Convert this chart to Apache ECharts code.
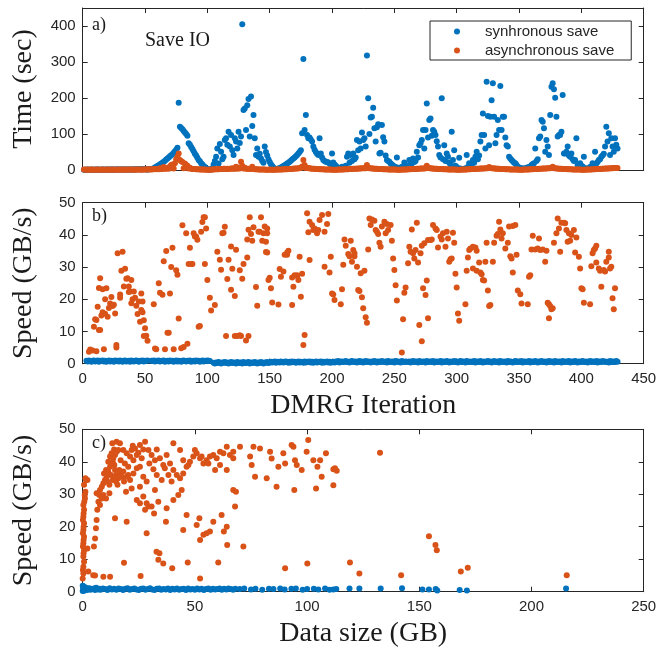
<!DOCTYPE html>
<html><head><meta charset="utf-8">
<script src="https://cdn.jsdelivr.net/npm/echarts@6/dist/echarts.min.js"></script>
<style>html,body{margin:0;padding:0;background:#fff}#c{width:668px;height:650px}</style>
</head><body><div id="c"></div><script>
// ---------- DATA ----------
const seriesNames = ['synhronous save', 'asynchronous save'];
const iterTicks = [0, 50, 100, 150, 200, 250, 300, 350, 400, 450];
const sizeTicks = [0, 50, 100, 150, 200, 250];
const timeTicks = [0, 100, 200, 300, 400];
const speedTicks = [0, 10, 20, 30, 40, 50];

// panel a: save time (sec) per DMRG iteration 1..429
const aSyncTime = [
0.8,0.9,1.0,1.1,0.9,1.0,1.2,1.0,0.9,1.1,
1.0,1.2,1.1,0.9,1.0,1.1,1.3,1.0,1.2,1.1,
1.0,1.2,1.3,1.1,1.0,1.2,1.4,1.3,1.1,1.2,
1.3,1.5,1.2,1.4,1.3,1.5,1.6,1.4,1.5,1.7,
1.6,1.8,1.7,1.9,2.0,1.8,2.1,2.3,2.2,2.5,
1.4,1.6,1.8,2.0,2.5,3,5,7,9,11,
13,15,18,20,23,26,29,32,35,38,
41,44,48,52,56,62,187,120,117,113,
108,104,100,95,74,70,64,58,52,45,
40,34,28,24,19,15,11,8,5,3,
2,1.5,1.2,5,15,25,37,60,18,72,
51,30,37,83,88,70,106,65,97,55,
42,88,79,60,106,75,93,405,167,171,
111,180,197,93,204,122,153,88,42,60,
37,45,32,25,20,65,50,40,30,22,
16,11,7,4,2,2,4,5,7,9,
11,13,15,18,20,23,26,29,32,35,
38,42,46,50,55,102,308,111,153,97,
88,90,85,79,65,56,50,45,42,88,
46,35,28,25,23,22,21,18,15,46,
21,15,12,8,5,3,4,9,6,8,
12,37,46,20,42,25,46,30,35,83,
55,79,60,104,83,88,65,318,199,100,
146,148,173,116,79,119,127,46,48,125,
91,79,40,28,25,23,18,15,12,10,
8,35,6,5,4,9,5,21,7,10,
12,28,15,18,32,22,25,51,35,69,
74,83,111,60,111,185,90,139,143,95,
111,106,97,80,65,42,35,199,30,69,
25,46,37,20,15,106,28,55,12,8,
5,34,4,3,2,3,5,42,8,19,
12,15,28,20,37,51,30,40,79,97,
157,97,60,245,150,69,148,194,241,148,
74,97,139,111,233,111,148,148,90,69,
65,37,32,28,24,20,19,14,9,7,
5,4,5,3,4,6,7,8,9,14,
17,19,60,25,30,88,93,139,134,116,
51,83,65,42,153,231,241,224,201,148,
93,97,97,106,208,46,46,51,65,40,
37,46,30,25,28,88,14,16,19,12,
10,37,5,4,3,5,8,10,19,14,
51,18,22,28,30,37,40,45,65,120,
79,102,42,88,65,51,88,70,60
];
const aAsyncTime = [
1.2,0.9,1.1,1.0,1.3,0.8,1.1,1.2,0.9,1.0,
1.1,1.3,0.9,1.0,1.2,1.1,0.8,1.0,1.3,1.1,
0.9,1.2,1.0,1.1,1.4,1.0,0.9,1.2,1.1,1.0,
1.3,1.1,0.9,1.2,1.0,1.1,1.4,1.2,1.0,1.1,
1.2,1.0,1.3,1.1,1.5,1.2,1.0,1.3,1.6,1.2,
1.4,1.8,1.5,2.0,1.7,2.2,1.9,2.5,2.1,2.8,
2.4,5.0,2.6,3.0,8.0,3.2,3.5,6.0,3.8,10.0,
14.0,15.0,4.5,19.0,30.0,37.0,46.0,28.0,24.0,22.0,
5.0,18.0,14.0,12.0,4.0,6.0,3.5,3.0,2.8,2.5,
2.2,2.0,1.8,1.6,1.5,1.3,1.2,1.1,1.0,1.0,
0.9,1.0,1.2,1.4,1.6,1.8,2.0,2.2,2.4,2.6,
2.8,3.0,3.2,3.4,2.8,3.6,3.0,3.8,3.2,5.0,
3.4,3.6,9.0,3.8,6.0,4.0,23.0,12.0,4.2,6.0,
3.8,3.5,3.2,3.0,2.8,9.0,2.5,2.2,2.0,1.8,
1.6,1.5,1.4,1.3,1.2,1.1,1.0,0.9,1.0,1.1,
0.9,1.0,1.0,0.9,1.1,1.2,1.3,1.4,1.5,1.7,
1.8,2.0,2.2,2.4,2.6,2.8,3.0,3.3,3.6,3.9,
4.2,4.5,4.8,5.2,5.6,10.0,28.0,14.0,5.5,6.0,
5.0,4.6,4.2,3.8,3.5,3.2,3.0,2.7,2.5,2.3,
2.1,1.9,1.8,1.6,1.5,1.4,1.3,1.2,1.1,1.0,
1.0,0.9,1.0,0.9,1.1,1.2,1.3,1.4,1.6,1.8,
2.0,2.2,2.4,2.6,2.8,3.0,3.2,3.4,3.6,3.8,
4.0,4.2,4.4,4.6,4.8,5.0,5.2,14.0,6.0,5.0,
4.6,4.3,4.0,3.8,3.5,3.3,3.1,2.9,2.7,2.5,
2.3,2.1,2.0,1.8,1.7,1.6,1.5,1.4,1.3,1.2,
1.1,1.0,1.0,0.9,1.0,1.1,1.2,1.3,1.5,1.7,
1.9,2.1,2.3,2.5,2.7,2.9,3.1,3.3,3.5,3.7,
3.9,4.1,4.3,4.5,4.8,12.0,6.0,5.0,4.6,4.3,
4.0,3.8,3.5,3.3,3.1,2.9,2.7,2.5,2.3,2.1,
2.0,1.8,1.7,1.6,1.5,1.4,1.3,1.2,1.1,1.0,
1.0,0.9,1.0,1.1,1.2,1.3,1.5,1.7,1.9,2.1,
2.3,2.5,2.7,2.9,3.1,3.3,3.5,3.7,3.9,4.1,
4.3,4.5,4.7,4.9,5.1,8.0,5.3,4.9,4.6,4.3,
4.0,3.8,3.5,3.3,3.1,2.9,2.7,2.5,2.3,2.1,
2.0,1.8,1.7,1.6,1.5,1.4,1.3,1.2,1.1,1.0,
1.0,0.9,1.0,1.1,1.2,1.3,1.5,1.7,1.9,2.1,
2.3,2.5,2.7,2.9,3.1,3.3,3.5,3.7,3.9,4.1,
4.3,4.5,4.7,4.9,5.1,5.3,9.0,5.0,4.6,4.3,
4.0,3.8,3.5,3.3,3.1,2.9,2.7,2.5,2.3,2.1,
2.0,1.8,1.7,1.6,1.5,1.4,1.3,1.2,1.1,1.0,
1.0,0.9,1.0,1.1,1.2,1.3,1.5,1.7,1.9,2.1,
2.3,2.5,2.7,2.9,3.1,3.3,3.5,3.7,3.9,4.1,
4.3,4.5,4.7,4.9,5.1,5.3,5.5,5.7,5.9
];

// panel b: save speed (GB/s), synchronous, per iteration 1..429 (null = no save)
const bSyncSpeed = [
null,null,0.9,0.7,1.0,0.8,0.6,0.9,1.0,0.7,
0.8,1.0,0.6,0.9,0.8,1.0,0.7,0.9,0.6,0.8,
1.0,0.7,0.9,0.8,0.6,1.0,0.8,0.9,0.7,1.0,
0.8,0.6,0.9,1.0,0.7,0.8,0.9,0.6,1.0,0.8,
0.7,0.9,1.0,0.8,0.6,0.9,0.8,1.0,0.7,0.9,
0.8,1.0,null,null,0.9,0.8,1.0,0.7,0.9,0.8,
1.0,0.7,0.8,0.9,1.0,0.6,0.8,0.9,0.7,1.0,
0.8,0.9,0.6,0.8,1.0,0.7,0.9,0.8,0.6,0.9,
1.0,0.8,0.7,0.9,0.8,1.0,0.6,0.8,0.9,0.7,
1.0,0.8,0.9,0.6,0.8,1.0,0.7,0.9,0.8,1.0,
0.9,0.8,null,null,0.3,0.1,0.4,0.2,0.5,0.3,
0.1,0.4,0.3,0.5,0.2,0.4,0.1,0.3,0.5,0.2,
0.4,0.3,0.1,0.5,0.2,0.3,0.4,0.1,0.5,0.3,
0.2,0.4,0.5,0.1,0.3,0.4,0.2,0.5,0.3,0.1,
0.4,0.2,0.5,0.3,0.1,0.4,0.3,0.5,0.2,0.4,
0.6,0.4,0.5,0.7,0.3,0.6,0.5,0.4,0.7,0.5,
0.4,0.6,0.7,0.5,0.3,0.6,0.4,0.7,0.5,0.6,
0.3,0.5,0.7,0.4,0.6,0.5,0.3,0.7,0.4,0.6,
0.5,0.7,0.4,0.6,0.3,0.5,0.7,0.4,0.6,0.5,
0.7,0.3,0.6,0.4,0.5,0.7,0.4,0.6,0.3,0.5,
0.6,0.4,0.7,0.5,0.8,0.4,0.6,0.7,0.5,0.6,
0.8,0.5,0.6,0.4,0.7,0.8,0.5,0.6,0.7,0.4,
0.6,0.8,0.5,0.7,0.4,0.6,0.8,0.5,0.7,0.6,
0.4,0.7,0.5,0.8,0.6,0.4,0.7,0.6,0.5,0.8,
0.6,0.5,0.7,0.4,0.8,0.6,0.5,0.7,0.6,0.4,
0.8,0.6,0.7,0.5,0.4,0.8,0.6,0.5,0.7,0.6,
0.5,0.7,0.4,0.6,0.8,0.5,0.7,0.6,0.4,0.8,
0.6,0.5,0.7,0.6,0.4,0.8,0.5,0.6,0.7,0.5,
0.8,0.4,0.6,0.7,0.5,0.6,0.8,0.4,0.7,0.6,
0.5,0.8,0.6,0.4,0.7,0.5,0.6,0.8,0.5,0.7,
0.4,0.6,0.8,0.5,0.7,0.6,0.4,0.8,0.6,0.5,
0.7,0.5,0.6,0.8,0.4,0.7,0.6,0.5,0.8,0.6,
0.4,0.7,0.5,0.6,0.8,0.5,0.7,0.4,0.6,0.8,
0.5,0.6,0.7,0.4,0.8,0.6,0.5,0.7,0.6,0.4,
0.8,0.5,0.7,0.6,0.4,0.6,0.8,0.5,0.7,0.6,
0.5,0.8,0.4,0.6,0.7,0.5,0.6,0.8,0.4,0.7,
0.6,0.5,0.8,0.6,0.4,0.7,0.5,0.8,0.6,0.5,
0.7,0.4,0.6,0.8,0.5,0.7,0.6,0.4,0.8,0.6,
0.5,0.7,0.6,0.4,0.8,0.5,0.6,0.7,0.5,0.8,
0.4,0.6,0.7,0.5,0.8,0.6,0.4,0.7,0.6,0.5,
0.8,0.6,0.5,0.7,0.4,0.6,0.8,0.5,0.7,0.6,
0.5,0.8,0.4,0.7,0.6,0.5,0.8,0.6,0.7,0.5,
0.6,0.4,0.8,0.5,0.7,0.6,0.5,0.8,0.6
];
// panel b: asynchronous save speed, [iteration, GB/s]
const bAsyncPoints = [
[5,3.7],[6,4.4],[8,4.1],[9,11.5],[11,13.6],[11,3.9],[12,17.7],[13,10.5],[13,23.5],[14,26.5],[15,15],[16,16],[17,4.5],[18,20],[18,15.5],[19,23.4],[21,17.3],[22,18.7],[23,20.7],[25,18.3],[27,5],[27,5.8],[28,34.3],[30,21.5],[30,20.5],[31,28.9],[32,34.8],[33,24],[34,29.5],[35,26.4],[37,24],[37,22.3],[39,18.8],[39,26],[41,22.4],[42,20.5],[43,18],[44,15.4],[46,13],[47,21.8],[48,19.3],[48,16],[49,13.5],[50,11],[51,8.7],[52,7.1],
[10,13.8],[14,10.5],[16,23.1],[20,14.6],[24,17.9],[26,15.6],[36,26.5],[38,22.4],[40,20],[45,19.3],[47,16.7],[49,8.6],
[57,18.5],[58,4.7],[59,4.5],[61,25],[62,22],[64,21.4],[65,31.8],[66,4.5],[67,35],[68,9.6],[69,9.6],[70,21.8],[71,30],[72,36],[73,4.5],[75,29],[76,27.6],[77,14],[79,4.8],[80,43],[81,5.2],[83,40.5],[84,6.2],[86,36],[87,31],[89,40.5],[90,39.5],[92,38.5],[94,11.7],[95,41],[96,44],[98,45.5],[98,31],[100,26],[102,20.5],[103,16.5],
[85,31],[88,31],[91,39.5],[93,11.5],[97,45.5],[99,42],
[106,18.2],[108,34.8],[110,32.3],[111,29.2],[112,40.5],[113,40.7],[114,42.5],[115,8.6],[116,26.3],[117,32.3],[119,36.4],[119,23],[120,29.5],[122,8.6],[122,21],[123,35.4],[124,8.6],[126,29],[126,8.8],[127,8.6],[128,26.4],[129,31],[131,7.2],[132,33],[133,8.6],[132,38.6],[133,41.6],[134,45.5],[135,40.3],[136,38.2],[137,42.4],[139,23.8],[140,18],[141,41],[142,41],[143,45.5],[144,38.2],[145,40.5],[146,42.6],[147,34.7],
[148,42],[148,40.5],[147,37.9],[148,34.5],[149,26],[150,26.7],[151,23.4],[152,19],[157,18.4],[158,29.4],[159,27],[161,28.6],[164,34.5],[165,35.1],[164,33.8],[162,33.8],[168,26.8],[169,23.9],[170,27.5],[172,27.2],[173,26],[172,27.5],[174,33.2],[176,27.9],[175,20.8],[168,18.2],[178,8.9],[177,5.8],[180,46.7],[181,40.8],[182,44.1],[184,43.1],[185,41.5],[186,42],[188,40.5],[189,41.5],[190,44.6],[192,46.2],[194,41],[196,43.4],[197,46.5],[182,32.2],[194,30.1],[198,28.3],[199,33.2],[201,21.5],[200,21.8],[202,19.8],[207,18.5],[208,23.1],[209,30.7],[210,38.6],[211,36.6],[213,34.1],[214,33.4],[215,38.2],[216,31.7],[217,35.3],[218,34.3],[220,30.1],[218,33.4],[221,22.9],[222,22.6],[224,20.6],[225,17.2],[223,28.1],[226,28.9],[227,14.4],[228,12.7],[229,35.5],[230,45.1],[232,44.8],[234,44.4],[231,43.1],[236,41],[235,41.5],[237,40.3],[238,37.6],[239,36.3],[240,42.6],[242,44.1],[244,43.4],[245,41.5],[247,43.1],[243,40.5],[248,38.2],[249,32.7],[250,29.1],[251,24.4],[252,19.6],[256,3.5],[257,13.8],[258,22],[259,23.7],[261,31.2],[262,36.3],[263,34.8],[264,41.7],[265,34.3],[266,32.7],[267,35.3],[268,43.8],[269,31.4],[271,34.3],[272,36.6],[273,23.4],[275,21.3],[276,25.8],[277,14.1],[270,12],[272,7],[274,37.4],[277,38.4],[279,38.4],[280,38.6],[281,43.1],[283,42],[284,41.5],[285,36.1],[287,39.5],[288,38.6],[289,40.5],[291,36.3],[292,41],[293,38.9],[294,31.7],[295,32.4],
[297,40.7],[298,37.6],[296,32.7],[299,27.9],[300,23.7],[301,15.6],[302,13.3],[307,18.5],[308,28.9],[309,33],[310,35.3],[311,35.8],[313,36.3],[315,36.1],[316,35.1],[313,29.6],[316,28.9],[318,31.4],[319,28.3],[320,27.8],[321,26],[322,25.8],[323,31.7],[324,37.6],[325,22.7],[326,17.9],[327,18.2],[329,31.7],[330,37.6],[332,39.7],[333,40.3],[334,44.1],[335,41.7],[336,38.9],[337,40.5],[339,35.8],[341,37.6],[342,42.6],[343,33.4],[344,32.7],[345,42.8],[347,43.1],[348,33.8],[345,28.3],[349,22.7],[351,21.6],[352,18.7],[357,18.5],[358,27],[359,27.5],[360,35.5],[361,39.7],[363,35.5],[365,35.8],[366,38.9],[367,35.3],[369,35.5],[371,31.7],[372,35.1],[373,18.9],[374,18.5],[375,17.9],[376,16.9],[374,14.1],[377,17.2],[378,37.6],[380,40.5],[381,45.1],[382,42],[383,34.8],[384,43.8],[386,43.8],[387,43.6],[388,41.5],[390,40.5],[391,38.2],[389,37.9],[392,40],[394,41.5],[395,34.5],[396,39.2],[398,33.2],[399,29.6],[400,23.4],[401,23.1],[402,18.9],[407,18.5],[408,30.3],[409,34.3],[410,35.3],[411,35.8],[412,36.6],[412,31.4],[414,29.6],[415,28.9],[416,23.9],[418,29.1],[419,28.6],[420,31.7],[422,33],[422,34.8],[423,29.6],[424,30.1],[425,20.3],[426,16.9],[427,23.4]
];

// panel c: [data size (GB), speed (GB/s)]
const cSyncPoints = [
[0,0.2],[0,1.8],[0.2,0.6],[0.3,1.4],[0.4,0.9],[0.5,1.6],[0.6,0.3],[0.8,1.1],[1,0.7],[1.5,1.2],[2,0.5],[2.5,0.9],[3,1.1],[3.5,0.6],[4,0.8],[5,1.0],[5.5,0.5],[6,1.2],[7,0.7],[7.5,0.9],[8,0.6],[9,1.0],[10,0.8],[11,0.5],[12,1.1],[13,0.7],[14,0.9],[15,0.6],[16,1.0],[17,0.8],[18,0.5],[19,0.9],[20,1.1],[21,0.6],[22,0.8],[23,1.0],[24,0.7],[25,0.5],[26,0.9],[27,1.0],[28,0.6],[29,0.8],[30,1.1],[31,0.7],[32,0.5],[33,0.9],[34,1.0],[35,0.6],[36,0.8],[37,0.7],[38,1.0],[39,0.5],[40,0.9],[41,0.7],[42,1.0],[43,0.6],[44,0.8],[45,0.9],[46,0.5],[47,1.0],[48,0.7],[49,0.8],[50,0.6],[51,1.0],[52,0.7],[53,0.9],[54,0.5],[55,0.8],[56,1.0],[57,0.6],[58,0.9],[59,0.7],[60,0.8],[61,1.0],[62,0.6],[63,0.9],[64,0.7],[65,1.0],[66,0.8],[67,0.6],[68,0.9],[70,0.8],[72,1.0],[75,0.7],[77,0.9],[80,0.6],[83,0.9],[85,0.8],[88,1.0],[90,0.7],[93,0.9],[95,1.0],[98,0.6],[100,0.8],[103,0.9],[105,0.7],[108,1.0],[110,0.6],[111.7,0.7],[113,0.8],[118.9,1.0],[123.3,1.0],[132.8,1.0],[142.3,1.1],[151.4,0.7],[154.3,0.7],[157.3,0.8],[158,0.4],[168,0.5],[171.2,0.4],[215.4,1.0]
];
const cAsyncPoints = [
[0,4.1],[0.3,5.6],[0.1,6.7],[0.3,7.7],[0.6,9.2],[0.3,10.8],[0.4,11.8],[0.6,12.8],[0.1,13.9],[0.3,14.9],[0.4,15.9],[0.6,16.9],[0.1,18],[0.3,19],[0.4,20],[0.6,21.1],[0.1,22.1],[0.3,23.1],[0.4,24.1],[0.6,25.2],[0.3,26.7],[0.7,27.7],[1.0,28.7],[0.9,29.8],[1.2,30.8],[0.6,32.9],[1.5,34.4],[1.2,34.9],[2.1,34.4],[2.5,6.2],[2.1,13.3],
[4.7,5.1],[5.0,13.9],[5.5,16.4],[5.9,19.5],[6.2,22.1],[6.5,25.2],[7.0,27.7],[7.4,29.8],[6.2,30.3],[7.7,31.3],[8.5,32.3],[9.2,33.4],[9.9,34.4],[10.7,35.4],[11.4,37],[12.2,38.5],[12.9,39.5],[13.6,41.1],[14.4,42.1],[15.1,43.1],[15.9,43.6],[14.4,37.5],[15.1,35.9],[15.9,34.9],[16.6,36.4],[18.1,37],[19.6,35.4],[21.1,34.4],[22.6,36.4],[24.1,38],[25.5,38.5],[27,35.4],[28.5,33.9],[21.8,31.8],[19.3,30.8],[25.5,32.3],[24.1,28.2],[28.5,27.2],[30.7,26.2],[33.7,27.7],[37.4,25.7],[40.4,28.2],[42.6,29.8],[44.1,31.3],[15.1,46.2],[16.6,45.7],[18.1,43.6],[19.6,42.6],[21.1,41.6],[22.3,44.9],[23.3,44.1],[24.8,42.8],[26.3,41.1],[27.8,46.2],[29.3,43.6],[30.7,42.1],[32.2,40.5],[33,43.8],[34.4,41.1],[35.9,39],[37.4,42.1],[38.9,39.5],[40.4,37.5],[41.9,35.9],[43.4,34.9],[44.8,36.4],[46.3,38.5],[47.8,40],[49.3,41.6],[50.8,42.6],[52.3,41.1],[53.8,39.5],[55.2,40.5],[56.7,41.6],[58.2,42.1],[59.7,41.1],[61.2,43.1],[62.7,42.6],[64.2,44.6],[65.6,42.1],[67.1,41.1],[40.4,45.7],[43.4,43.6],[44.8,40.5],[47.1,39],[50,43.6],[53,41.6],[56,39.5],[59,37.5],[61.2,39],[64.2,37.5],[67.1,43.1],[68.3,30.8],
[9.5,36.4],[10.4,37.5],[11,33.9],[11.9,32.9],[12.6,35.9],[13.4,34.4],[14,35.4],[14.9,33.9],[15.5,32.9],[16.3,37.5],[17.4,35.4],[18.4,33.9],[20.3,35.9],[8.5,28.7],[7.7,26.7],[9.2,29.8],[10.4,28.7],[11.9,30.3],[13.4,40],[14.1,39],[11.4,40],[12.2,41.6],[12.9,42.6],[14,43.8],[13.2,45.7],[16.9,40.5],[18.8,39.5],[20.3,38.5],[22.6,40.5],[24.1,42.1],[21.8,43.6],[25.5,45.2],[27,43.8],[29.7,39.5],[31.5,37.7],[33,35.9],[35.2,34.4],[36.6,38],[38.2,35.9],[39.6,33.9],[25.5,27.2],[27.8,25.2],[27,29.3],[29.3,26.2],[32.2,31.3],
[14.4,22.6],[19.6,21.5],[28.5,18],[31.8,24.1],[37.1,21.5],[44.8,19],[46.3,23.6],[50.8,20.5],[52,22.6],[52.3,15.9],[53.8,17.5],[55.2,18],[56.7,18.5],[58.2,21.5],[61.9,23.6],[62.9,18.5],[64.2,20],[5.5,5],[9.2,4.6],[12.2,4.6],[18.4,8.9],[25.8,4.8],[32.9,12.3],[33.7,9.8],[35.9,8.7],[34.2,11.8],[39.9,7.2],[46.8,9],[52.3,4.1],[60.4,9],[64.4,14.4],[71.6,13.9],[90.2,7.2],[100.1,8.7],
[67.1,31.3],[67.9,26.2],[70.1,44.6],[74.6,41.6],[75.3,39],[76.1,44.6],[76.8,35.4],[79,44.1],[82,34.9],[83.5,43.1],[84.2,41],[86.4,32.3],[87.2,38.5],[89.4,42.6],[90.2,39.5],[93.1,45.2],[93.9,44.6],[94.6,40.5],[94.3,31.3],[95.4,39],[97.6,37.5],[100.5,46.7],[99.8,43.1],[102.8,40.5],[104,31.8],[104.6,38.5],[105.8,40.5],[106.5,35.4],[108.4,42.6],[112.4,38],[111.7,32.8],[111.7,37.7],[113.2,37.2],[132.5,42.8],[119.1,9],[123.3,5.6],[141.9,5.1],[154.3,17.1],[157.2,14.4],[157.8,12.8],[168.5,6.2],[171.6,7.4],[215.7,5.1]
];

// ---------- CHART ----------
const BLUE = '#0072BD', ORANGE = '#D95319', AX = '#262626';
const iterations = aSyncTime.map((_, i) => i + 1);
const GRIDS = [
  {left: 82.7, top: 8, width: 561, height: 162},
  {left: 82.7, top: 202.7, width: 561, height: 161},
  {left: 82.7, top: 429.3, width: 561, height: 162.4}
];
const ticks = t => ({min: t[0], max: t[t.length - 1], interval: t[1] - t[0]});
function axis(grid, t, position, showLabel, name, isY, extra) {
  return Object.assign({
    type: 'value', gridIndex: grid, position: position, ...ticks(t),
    axisLine: {show: true, onZero: false, lineStyle: {color: AX, width: 1}},
    axisTick: {show: true, inside: true, length: 5, lineStyle: {color: AX}},
    axisLabel: {show: showLabel, color: AX, fontFamily: 'Liberation Sans', fontSize: 15, margin: isY ? 7 : 8},
    splitLine: {show: false},
    name: name || '', nameLocation: 'middle', nameGap: isY ? 45 : 28,
    nameTextStyle: {fontFamily: 'Liberation Serif', fontSize: 28, color: '#1a1a1a'}
  }, extra || {});
}
const xAxis = [
  axis(0, iterTicks, 'bottom', false), axis(0, iterTicks, 'top', false),
  axis(1, iterTicks, 'bottom', true, 'DMRG Iteration'), axis(1, iterTicks, 'top', false),
  axis(2, sizeTicks, 'bottom', true, 'Data size (GB)'), axis(2, sizeTicks, 'top', false)
];
const yAxis = [
  axis(0, timeTicks, 'left', true, 'Time (sec)', true, {max: 450, interval: 100}),
  axis(0, timeTicks, 'right', false, '', true, {max: 450, interval: 100}),
  axis(1, speedTicks, 'left', true, 'Speed (GB/s)', true), axis(1, speedTicks, 'right', false, '', true),
  axis(2, speedTicks, 'left', true, 'Speed (GB/s)', true), axis(2, speedTicks, 'right', false, '', true)
];
yAxis[0].axisLabel.showMaxLabel = false;
yAxis[0].axisLabel.formatter = v => (v > timeTicks[timeTicks.length - 1] ? '' : String(v));

function sc(name, color, xi, data) {
  return {type: 'scatter', name: name, xAxisIndex: xi, yAxisIndex: xi, data: data,
    symbol: 'circle', symbolSize: 6, itemStyle: {color: color, opacity: 1}, silent: true};
}
const series = [
  sc(seriesNames[0], BLUE, 0, iterations.map((it, i) => [it, aSyncTime[i]])),
  sc(seriesNames[1], ORANGE, 0, iterations.map((it, i) => [it, aAsyncTime[i]])),
  sc(seriesNames[0], BLUE, 2, iterations.map((it, i) => [it, bSyncSpeed[i]]).filter(p => p[1] !== null)),
  sc(seriesNames[1], ORANGE, 2, bAsyncPoints),
  sc(seriesNames[0], BLUE, 4, cSyncPoints),
  sc(seriesNames[1], ORANGE, 4, cAsyncPoints)
];

const chart = echarts.init(document.getElementById('c'), null, {renderer: 'canvas'});
chart.setOption({
  animation: false,
  backgroundColor: '#fff',
  grid: GRIDS,
  xAxis: xAxis,
  yAxis: yAxis,
  series: series,
  legend: {
    data: seriesNames, orient: 'vertical', left: 430, top: 21,
    padding: [3, 17, 2, 24], itemGap: 4, itemWidth: 6, itemHeight: 6, icon: 'circle',
    borderColor: AX, borderWidth: 1, backgroundColor: '#fff',
    textStyle: {fontFamily: 'Liberation Sans', fontSize: 15, color: AX, padding: [0, 0, 0, 20]}
  },
  graphic: [
    {type: 'text', left: 92, top: 16, style: {text: 'a)', font: '18px "Liberation Serif"', fill: '#1a1a1a'}},
    {type: 'text', left: 145, top: 31, style: {text: 'Save IO', font: '20px "Liberation Serif"', fill: '#1a1a1a'}},
    {type: 'text', left: 92, top: 207, style: {text: 'b)', font: '18px "Liberation Serif"', fill: '#1a1a1a'}},
    {type: 'text', left: 92, top: 434, style: {text: 'c)', font: '18px "Liberation Serif"', fill: '#1a1a1a'}}
  ]
});
</script></body></html>
